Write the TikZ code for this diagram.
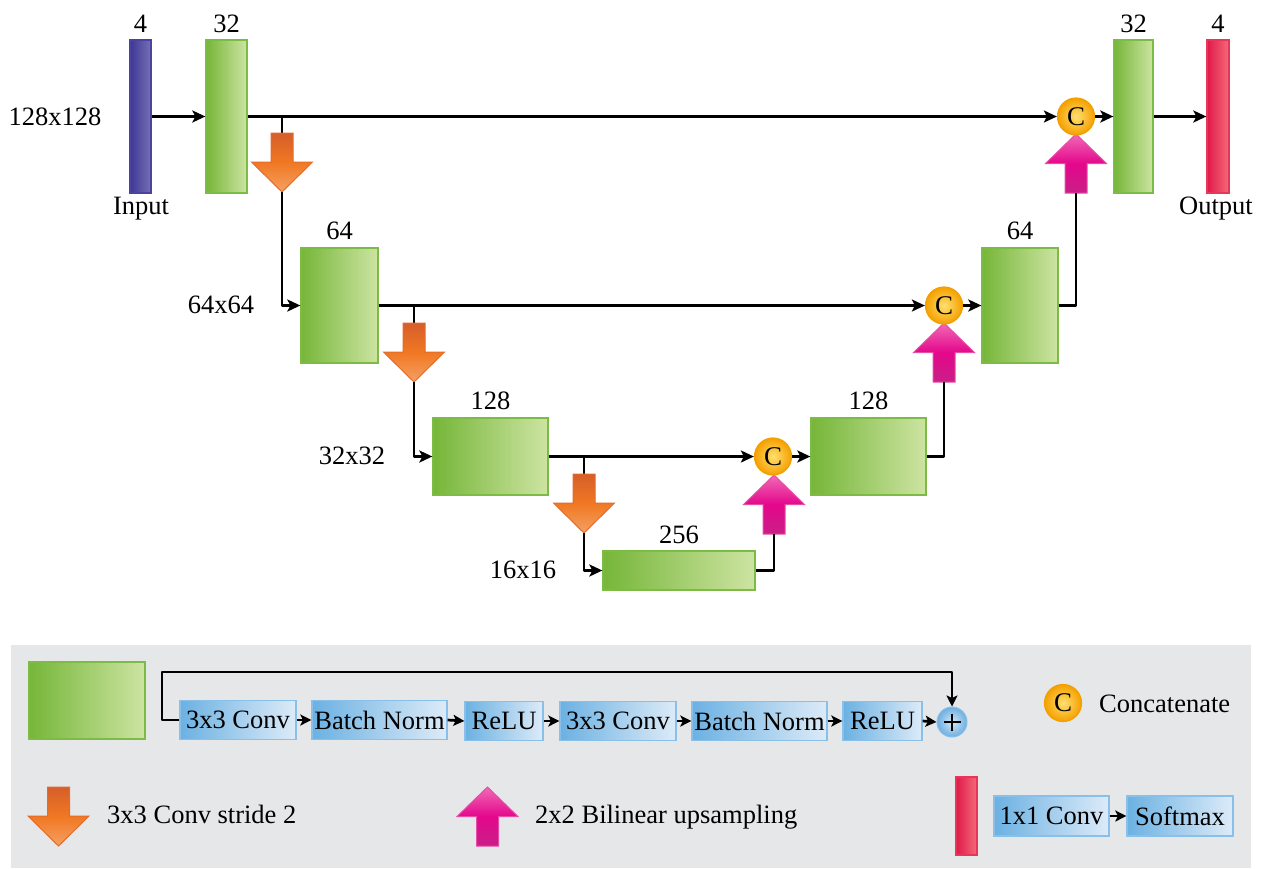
\documentclass[tikz,border=0pt]{standalone}
\usepackage{fontspec}
\setmainfont{Liberation Serif}
\usetikzlibrary{arrows.meta,calc}
\definecolor{gL}{HTML}{76B639}
\definecolor{gR}{HTML}{CDE4A2}
\definecolor{gE}{HTML}{7CBB44}
\definecolor{pL}{HTML}{3E3795}
\definecolor{pR}{HTML}{7670B5}
\definecolor{pE}{HTML}{4A44A0}
\definecolor{rL}{HTML}{E0194A}
\definecolor{rR}{HTML}{F36B78}
\definecolor{rE}{HTML}{E8365A}
\definecolor{bL}{HTML}{6BB1E2}
\definecolor{bR}{HTML}{DDEBF8}
\definecolor{bE}{HTML}{88C0EA}
\definecolor{oT}{HTML}{D65E2A}
\definecolor{oM}{HTML}{F07822}
\definecolor{oB}{HTML}{F5A064}
\definecolor{oE}{HTML}{E26C2C}
\definecolor{kT}{HTML}{F16AB5}
\definecolor{kM}{HTML}{E4078C}
\definecolor{kB}{HTML}{C91F86}
\definecolor{kE}{HTML}{E64DA6}
\definecolor{cI}{HTML}{FFE070}
\definecolor{cO}{HTML}{F5A000}
\definecolor{cE}{HTML}{F2A000}
\definecolor{plI}{HTML}{D3E7F7}
\definecolor{plO}{HTML}{6DAFE0}
\definecolor{panel}{HTML}{E6E7E9}
\newcommand\orArrow[3]{%
  \shadedraw[top color=oT, bottom color=oB, middle color=oM, draw=oE, line width=1pt, line join=miter]
   (#2-11,#3) -- (#2+11,#3) -- (#2+11,#3+29) -- (#2+30.5,#3+29) -- (#2,#3+59) -- (#2-30.5,#3+29) -- (#2-11,#3+29) -- cycle;
  \coordinate (#1top) at (#2,#3);
  \coordinate (#1tip) at (#2,#3+59);}
\newcommand\pkArrow[3]{%
  \shadedraw[top color=kT, bottom color=kB, middle color=kM, draw=kE, line width=1pt, line join=miter]
   (#2,#3) -- (#2+30.5,#3+29.5) -- (#2+11,#3+29.5) -- (#2+11,#3+59) -- (#2-11,#3+59) -- (#2-11,#3+29.5) -- (#2-30.5,#3+29.5) -- cycle;
  \coordinate (#1tip) at (#2,#3);
  \coordinate (#1bot) at (#2,#3+59);}
\begin{document}
\begin{tikzpicture}[x=1pt,y=-1pt,
  font=\fontsize{26.5}{30}\selectfont,
  fmap/.style n args={2}{draw=gE, line width=1.3pt, left color=gL, right color=gR, inner sep=0pt, minimum width=#1pt, minimum height=#2pt},
  inbar/.style={draw=pE, line width=1.3pt, left color=pL, right color=pR, inner sep=0pt, minimum width=21pt, minimum height=153pt},
  outbar/.style n args={2}{draw=rE, line width=1.3pt, left color=rL, right color=rR, inner sep=0pt, minimum width=#1pt, minimum height=#2pt},
  opbox/.style={draw=bE, line width=1.3pt, left color=bL, right color=bR, inner sep=0pt, minimum height=39pt, minimum width=#1pt},
  catnode/.style={circle, draw=cE, line width=1.2pt, inner color=cI, outer color=cO, minimum size=37pt, inner sep=0pt, font=\fontsize{27}{28}\selectfont},
  plusnode/.style={circle, draw=bE, line width=1pt, inner color=plI, outer color=plO, minimum size=30pt, inner sep=0pt},
  lab/.style={anchor=base, inner sep=0pt},
  conn/.style={line width=2.7pt, line join=round},
  arr/.style={conn, -{Stealth[length=13pt,width=12pt,inset=3pt]}},
  sarr/.style={conn, -{Stealth[length=11pt,width=11pt,inset=2.5pt]}}
]
\useasboundingbox (0,0) rectangle (1263,868);
% legend panel
\fill[panel] (11,645) rectangle (1251,868);

% ---- feature maps ----
\node[inbar] (in) at (140.5,116.5) {};
\node[fmap={41}{153}] (e1) at (226.5,116.5) {};
\node[fmap={77}{115}] (e2) at (339.5,305.5) {};
\node[fmap={115}{77}] (e3) at (490.5,456.5) {};
\node[fmap={152}{39}] (b) at (679,570.5) {};
\node[fmap={115}{77}] (d3) at (868.5,456.5) {};
\node[fmap={76}{115}] (d2) at (1020,305.5) {};
\node[fmap={39}{153}] (d1) at (1133.5,116.5) {};
\node[outbar={22}{153}] (out) at (1218,116.5) {};

% ---- labels ----
\node[lab] (t4a) at (140.5,32) {4};
\node[lab] (t32a) at (226.5,32) {32};
\node[lab] (tin) at (141,214) {Input};
\node[lab] (t64a) at (339.5,239) {64};
\node[lab] (t128a) at (490.5,409) {128};
\node[lab] (t256) at (679,543) {256};
\node[lab] (t128b) at (868.5,409) {128};
\node[lab] (t64b) at (1020,239) {64};
\node[lab] (t32b) at (1133.5,32) {32};
\node[lab] (t4b) at (1218,32) {4};
\node[lab] (tout) at (1216,214) {Output};
\node[lab] (r128) at (55,125) {128x128};
\node[lab] (r64) at (221,313) {64x64};
\node[lab] (r32) at (352,464) {32x32};
\node[lab] (r16) at (523,578) {16x16};

% ---- branch points ----
\coordinate (br1) at (282,116.5);
\coordinate (br2) at (414,305.5);
\coordinate (br3) at (584,456.5);

% ---- skip / main connectors ----
\draw[arr] (in) -- (e1);
\draw[conn] (br1) -- ++(0,17);
\draw[conn] (br2) -- ++(0,18);
\draw[conn] (br3) -- ++(0,19);

% ---- down arrows ----
\orArrow{oa}{282}{133}
\orArrow{ob}{414}{323}
\orArrow{oc}{584}{474}

\draw[arr] (oatip) |- (e2.west);
\draw[arr] (obtip) |- (e3.west);
\draw[arr] (octip) |- (b.west);

% ---- up arrows ----
\pkArrow{pc}{774}{475}
\pkArrow{pb}{944}{323}
\pkArrow{pa}{1076}{134}

\draw[conn] (b.east) -| (pcbot);
\draw[conn] (d3.east) -| (pbbot);
\draw[conn] (d2.east) -| (pabot);

% ---- concatenate nodes ----
\node[catnode] (c3) at (773,456.5) {C};
\node[catnode] (c2) at (944,305.5) {C};
\node[catnode] (c1) at (1076,116.5) {C};

\draw[arr] (e1.east) -- (c1.west);
\draw[arr] (e2.east) -- (c2.west);
\draw[arr] (e3.east) -- (c3.west);
\draw[arr] (c3.east) -- (d3.west);
\draw[arr] (c2.east) -- (d2.west);
\draw[arr] (c1.east) -- (d1.west);
\draw[arr] (d1.east) -- (out.west);

% ---- legend ----
\node[fmap={116}{77}] (lg) at (87,700.5) {};
\node[opbox=116] (lc1) at (238,720) {3x3 Conv};
\node[opbox=135] (lb1) at (379.5,720) {Batch Norm};
\node[opbox=78] (lr1) at (504,721) {ReLU};
\node[opbox=116] (lc2) at (618,721) {3x3 Conv};
\node[opbox=135] (lb2) at (759.5,721) {Batch Norm};
\node[opbox=79] (lr2) at (882.5,721) {ReLU};
\node[plusnode] (lp) at (952,722) {};
\draw[line width=1.4pt] ($(lp.center)+(-8.5,0)$) -- ($(lp.center)+(8.5,0)$);
\draw[line width=1.4pt] ($(lp.center)+(0,-8.5)$) -- ($(lp.center)+(0,8.5)$);
\coordinate (skipL) at (162,672);
\draw[sarr] (lc1.west) -| (skipL) -| (lp.north);
\draw[sarr] (lc1.east) -- (lb1.west);
\draw[sarr] (lb1.east) -- (lr1.west);
\draw[sarr] (lr1.east) -- (lc2.west);
\draw[sarr] (lc2.east) -- (lb2.west);
\draw[sarr] (lb2.east) -- (lr2.west);
\draw[sarr] (lr2.east) -- (lp.west);

\node[catnode] (lcat) at (1063,703) {C};
\node[anchor=base west, inner sep=0pt] (lcatt) at (1099,712) {Concatenate};

\orArrow{lo}{58.5}{787}
\node[anchor=base west, inner sep=0pt] (lot) at (107,823) {3x3 Conv stride 2};
\pkArrow{lk}{487.5}{787}
\node[anchor=base west, inner sep=0pt] (lkt) at (535,823) {2x2 Bilinear upsampling};

\node[outbar={21}{78}] (lred) at (966.5,816) {};
\node[opbox=115, minimum height=40pt] (l11) at (1051.5,816) {1x1 Conv};
\node[opbox=106, minimum height=40pt] (lsm) at (1180,816) {Softmax};
\draw[sarr] (l11.east) -- (lsm.west);
\end{tikzpicture}
\end{document}
